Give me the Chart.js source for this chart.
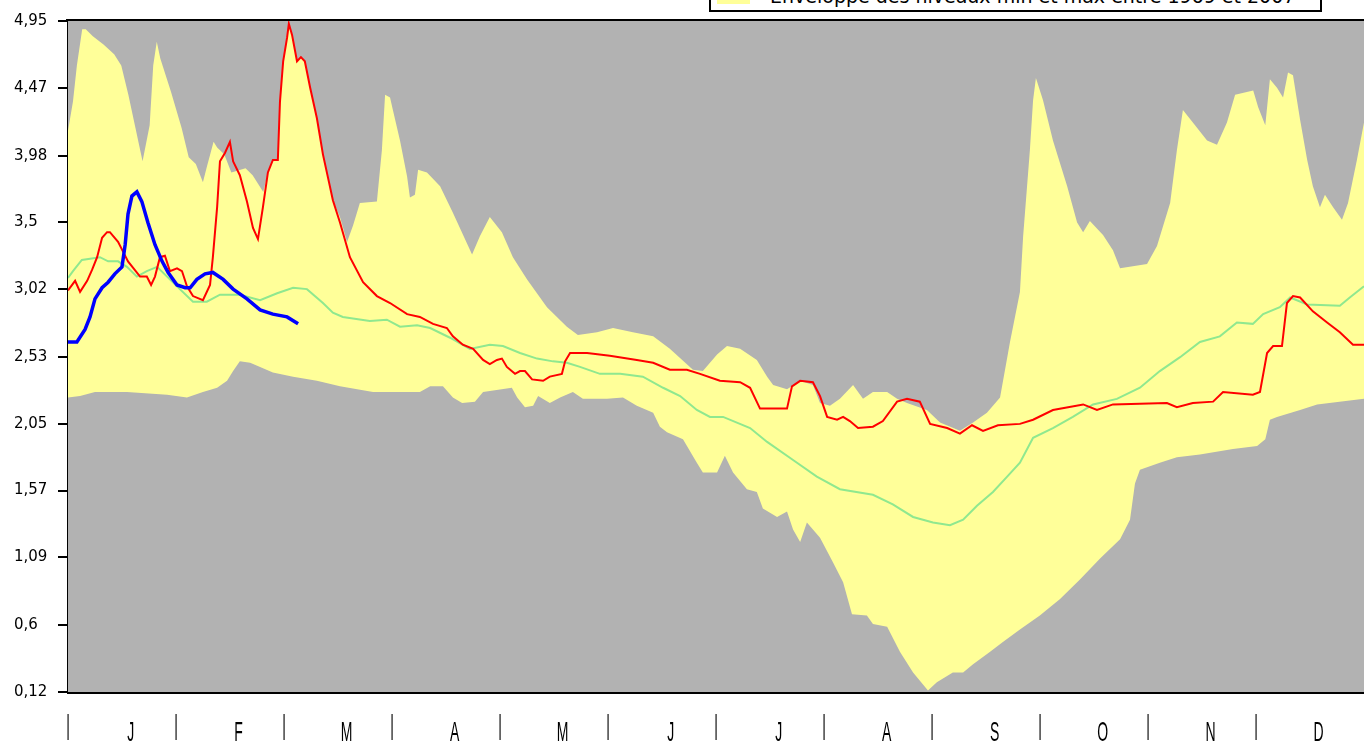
<!DOCTYPE html>
<html>
<head>
<meta charset="utf-8">
<script src="https://cdn.jsdelivr.net/npm/chart.js@4.4.1/dist/chart.umd.min.js"></script>
<style>
  html, body { margin: 0; padding: 0; background: #fff; overflow: hidden; }
  #wrap { position: relative; width: 1364px; height: 742px; }
  #levelChart { position: absolute; left: 0; top: 0; }
  .legend-box {
    position: absolute; left: 709px; top: -28px; width: 613px; height: 40px;
    box-sizing: border-box; border: 2px solid #000; background: #fff; z-index: 2;
  }
  .legend-swatch { position: absolute; left: 6px; bottom: 6px; width: 33px; height: 14px; background: #ffff99; }
  .legend-text {
    position: absolute; left: 59px; bottom: 4px; white-space: nowrap;
    font: 19px/19px "DejaVu Sans", sans-serif; color: #000;
  }
</style>
</head>
<body>
<div id="wrap">
  <canvas id="levelChart" width="1364" height="742"></canvas>
  <div class="legend-box">
    <div class="legend-swatch"></div>
    <div class="legend-text">Enveloppe des niveaux min et max entre 1969 et 2007</div>
  </div>
</div>
<script>
// axis labels
const MONTHS = ['J', 'F', 'M', 'A', 'M', 'J', 'J', 'A', 'S', 'O', 'N', 'D'];
const Y_TICKS = [0.12, 0.6, 1.09, 1.57, 2.05, 2.53, 3.02, 3.5, 3.98, 4.47, 4.95];

// envelope, upper limit (day of year -> level)
const maxDays = [0, 1.4, 2.5, 4, 5, 7, 10, 13, 15, 17,
  19, 21, 23, 24, 25, 26, 29, 32, 34, 36,
  38, 39, 41, 42, 44, 46, 50, 52, 55, 56.3,
  57.7, 59.1, 59.7, 60.6, 61.7, 62.2, 63.1, 64.5, 65.6, 66.7,
  68.2, 70.1, 71.8, 73.5, 74.6, 76.6, 78.6, 80.3, 82.2, 87,
  88.4, 89.3, 90.7, 91.5, 93.5, 95.5, 96.3, 97.7, 98.6, 101.1,
  104.8, 108.4, 113.8, 116, 118.8, 122.2, 125.3, 129.3, 134.9, 140.5,
  143.6, 149, 153.5, 159.1, 164.8, 169.5, 176, 178.8, 182.8, 185.6,
  189.3, 194, 196.9, 198.6, 202.5, 206.2, 209.8, 211.8, 214.6, 217.4,
  221.1, 223.9, 226.7, 230.7, 233.5, 236.3, 241.9, 245.6, 251.2, 254.9,
  258.8, 262.5, 265.3, 268.1, 269, 270.9, 271.8, 272.6, 274.6, 277.4,
  281.4, 284.2, 285.9, 287.8, 291.5, 294.3, 296.3, 303.9, 306.7, 310.4,
  312.3, 314, 316.8, 320.8, 323.6, 326.4, 328.7, 333.8, 335.2, 337.2,
  338.5, 340.5, 342.2, 343.6, 345, 347, 349, 350.6, 352.6, 354,
  356.3, 358.8, 360.5, 363, 365];
const maxLevels = [4.16, 4.37, 4.63, 4.89, 4.89, 4.84, 4.78, 4.71, 4.63, 4.42,
  4.18, 3.94, 4.20, 4.63, 4.80, 4.68, 4.44, 4.18, 3.97, 3.92,
  3.79, 3.89, 4.08, 4.04, 3.99, 3.86, 3.89, 3.84, 3.72, 3.86,
  3.95, 3.95, 4.37, 4.66, 4.83, 4.94, 4.85, 4.66, 4.69, 4.66,
  4.47, 4.25, 3.99, 3.79, 3.66, 3.54, 3.36, 3.48, 3.64, 3.65,
  4.02, 4.42, 4.40, 4.31, 4.09, 3.83, 3.68, 3.70, 3.88, 3.86,
  3.76, 3.57, 3.27, 3.40, 3.54, 3.43, 3.25, 3.09, 2.89, 2.75,
  2.69, 2.71, 2.74, 2.71, 2.68, 2.59, 2.44, 2.43, 2.55, 2.61,
  2.59, 2.51, 2.39, 2.33, 2.30, 2.36, 2.33, 2.20, 2.18, 2.23,
  2.33, 2.23, 2.28, 2.28, 2.23, 2.20, 2.15, 2.06, 2.00, 2.06,
  2.13, 2.24, 2.64, 3.00, 3.40, 4.02, 4.38, 4.54, 4.38, 4.09,
  3.76, 3.50, 3.43, 3.51, 3.41, 3.30, 3.17, 3.20, 3.33, 3.64,
  4.02, 4.31, 4.22, 4.09, 4.06, 4.22, 4.42, 4.45, 4.33, 4.20,
  4.53, 4.47, 4.40, 4.58, 4.56, 4.24, 3.95, 3.76, 3.61, 3.70,
  3.61, 3.52, 3.64, 3.95, 4.22];

// envelope, lower limit
const minDays = [0, 3.4, 7.6, 16.6, 27.9, 33.5, 38, 42, 44.8, 46.5,
  48.4, 51.3, 54.1, 57.7, 63.4, 70.1, 76.6, 85.9, 99.1, 102,
  105.6, 108.4, 111, 114.6, 116.9, 125, 126.5, 128.7, 131, 132.4,
  135.7, 138.6, 142.2, 145, 151.8, 156.3, 160.2, 164.8, 166.7, 168.7,
  173.2, 177.1, 178.8, 182.8, 185, 187.3, 191.2, 194, 195.7, 199.7,
  202.5, 204.2, 206.2, 208.1, 211.8, 215.5, 218.3, 220.8, 225, 226.7,
  230.7, 234.3, 238, 242.2, 244.7, 249.2, 252.1, 254.9, 259.7, 263.3,
  268.1, 273.7, 279.4, 285, 290.6, 296.3, 299.1, 300.5, 301.9, 307.5,
  312.3, 318.8, 328.1, 334.9, 337.2, 338.5, 340.5, 347, 351.8, 365];
const minLevels = [2.24, 2.25, 2.28, 2.28, 2.26, 2.24, 2.28, 2.31, 2.36, 2.43,
  2.50, 2.49, 2.46, 2.42, 2.39, 2.36, 2.32, 2.28, 2.28, 2.32,
  2.32, 2.24, 2.20, 2.21, 2.28, 2.31, 2.24, 2.17, 2.18, 2.25,
  2.20, 2.24, 2.28, 2.23, 2.23, 2.24, 2.18, 2.13, 2.03, 1.99,
  1.94, 1.77, 1.70, 1.70, 1.82, 1.70, 1.58, 1.56, 1.44, 1.38,
  1.42, 1.29, 1.20, 1.34, 1.23, 1.05, 0.91, 0.68, 0.67, 0.61,
  0.59, 0.41, 0.26, 0.13, 0.19, 0.26, 0.26, 0.32, 0.41, 0.48,
  0.57, 0.67, 0.79, 0.93, 1.08, 1.22, 1.36, 1.62, 1.72, 1.77,
  1.81, 1.83, 1.87, 1.89, 1.94, 2.08, 2.10, 2.15, 2.19, 2.23];

// mean level (green)
const meanDays = [0, 1.4, 3.9, 9, 11.3, 14.1, 16.6, 19.4, 22.2, 25.1,
  27.9, 30.7, 35.2, 39.1, 42.8, 48.4, 54.1, 58.9, 63.4, 67.3,
  71.8, 74.6, 77.4, 85, 89.8, 93.5, 98.3, 102, 107.6, 113.2,
  118.8, 122.5, 127.3, 132.1, 136.6, 140.5, 144.2, 149.8, 155.5, 161.9,
  167.6, 172.4, 177.1, 180.8, 184.5, 192.1, 196.9, 204.2, 210.9, 217.4,
  226.7, 232.3, 238, 243.6, 248.4, 252.1, 256, 260.5, 264.5, 268.1,
  271.8, 277.4, 283, 288.7, 295.4, 301.9, 307.5, 313.2, 318.8, 324.4,
  329.2, 333.7, 336.6, 341.3, 344.2, 349, 358.2, 361, 365];
const meanLevels = [3.10, 3.15, 3.23, 3.25, 3.22, 3.22, 3.18, 3.11, 3.15, 3.18,
  3.11, 3.04, 2.93, 2.93, 2.98, 2.98, 2.94, 2.99, 3.03, 3.02,
  2.92, 2.85, 2.82, 2.79, 2.80, 2.75, 2.76, 2.74, 2.67, 2.59,
  2.62, 2.61, 2.56, 2.52, 2.50, 2.49, 2.46, 2.41, 2.41, 2.39,
  2.31, 2.25, 2.15, 2.10, 2.10, 2.02, 1.92, 1.79, 1.67, 1.58,
  1.54, 1.47, 1.38, 1.34, 1.32, 1.36, 1.46, 1.56, 1.67, 1.77,
  1.95, 2.02, 2.10, 2.19, 2.23, 2.31, 2.43, 2.53, 2.64, 2.68,
  2.78, 2.77, 2.84, 2.89, 2.96, 2.91, 2.90, 2.96, 3.04];

// previous year (red)
const prevDays = [0, 2, 3.4, 5.4, 6.8, 8.2, 9.6, 11, 11.8, 14.1,
  15.5, 16.9, 20.3, 22.2, 23.4, 24.5, 25.9, 27.3, 28.7, 30.7,
  32.1, 33.5, 35.2, 38, 40, 40.8, 42, 42.8, 44.2, 45.6,
  46.5, 48.4, 50.4, 52.1, 53.5, 54.9, 56.3, 57.7, 59.1, 59.7,
  60.6, 61.7, 62.2, 63.1, 64.5, 65.6, 66.7, 68.2, 70.1, 71.8,
  73.5, 74.6, 76.6, 79.4, 83.1, 87, 90.7, 95.5, 99.1, 102.8,
  106.7, 108.4, 111.2, 114.1, 116.9, 118.8, 120.8, 122.2, 123.6, 125.9,
  127.3, 128.7, 130.7, 133.8, 135.7, 139.1, 140, 141.4, 146.2, 152.6,
  160.2, 164.8, 169.5, 174.3, 178, 183.6, 189.3, 192.1, 194.9, 202.5,
  203.9, 206.2, 209.8, 211.8, 213.8, 216.6, 218.3, 220.2, 222.5, 226.7,
  229.5, 233.5, 236.3, 239.9, 242.8, 247.6, 251.2, 254.6, 257.7, 261.9,
  268.1, 271.8, 277.4, 285.9, 289.8, 294.3, 309.5, 312.3, 316.8, 322.5,
  325.3, 333.7, 335.7, 337.7, 339.4, 341.9, 343.3, 345, 347, 350.6,
  354.6, 358.2, 361.9, 365];
const prevLevels = [3.01, 3.08, 3.00, 3.08, 3.16, 3.25, 3.39, 3.43, 3.43, 3.36,
  3.29, 3.22, 3.11, 3.11, 3.05, 3.11, 3.25, 3.26, 3.15, 3.17,
  3.15, 3.04, 2.97, 2.94, 3.05, 3.25, 3.61, 3.94, 4.00, 4.08,
  3.94, 3.84, 3.65, 3.46, 3.38, 3.61, 3.86, 3.95, 3.95, 4.37,
  4.66, 4.83, 4.93, 4.85, 4.66, 4.69, 4.66, 4.47, 4.25, 3.99,
  3.79, 3.66, 3.50, 3.25, 3.07, 2.97, 2.92, 2.84, 2.82, 2.77,
  2.74, 2.68, 2.62, 2.59, 2.51, 2.48, 2.51, 2.52, 2.46, 2.41,
  2.43, 2.43, 2.37, 2.36, 2.39, 2.41, 2.50, 2.56, 2.56, 2.54,
  2.51, 2.49, 2.44, 2.44, 2.41, 2.36, 2.35, 2.31, 2.16, 2.16,
  2.32, 2.36, 2.35, 2.25, 2.10, 2.08, 2.10, 2.07, 2.02, 2.03,
  2.07, 2.21, 2.23, 2.21, 2.05, 2.02, 1.98, 2.04, 2.00, 2.04,
  2.05, 2.08, 2.15, 2.19, 2.15, 2.19, 2.20, 2.17, 2.20, 2.21,
  2.28, 2.26, 2.28, 2.56, 2.61, 2.61, 2.92, 2.97, 2.96, 2.86,
  2.78, 2.71, 2.62, 2.62];

// current year (blue)
const curDays = [0, 2.5, 4.8, 6.2, 7.6, 9.6, 11.3, 13.2, 15.2, 16.1,
  16.9, 18, 19.4, 20.8, 22.5, 24.5, 26.5, 28.2, 30.7, 33,
  34.4, 36.3, 38.6, 40.8, 43.7, 46.5, 50.4, 54.1, 57.7, 61.7,
  64.8];
const curLevels = [2.64, 2.64, 2.73, 2.82, 2.95, 3.03, 3.07, 3.13, 3.18, 3.34,
  3.56, 3.69, 3.72, 3.65, 3.50, 3.34, 3.22, 3.14, 3.05, 3.03,
  3.03, 3.09, 3.13, 3.14, 3.09, 3.02, 2.95, 2.87, 2.84, 2.82,
  2.77];

const YEAR_DAYS = 365;
const MONTH_DAYS = YEAR_DAYS / 12;

// pair day/level arrays into points for the linear x scale
function points(days, levels) {
  const n = Math.min(days.length, levels.length);
  const out = [];
  for (let i = 0; i < n; i++) out.push({ x: days[i], y: levels[i] });
  return out;
}

// grey plot background + black frame on top
const plotFrame = {
  id: 'plotFrame',
  beforeDatasetsDraw(chart) {
    const { ctx, chartArea: a } = chart;
    ctx.save();
    ctx.fillStyle = '#b2b2b2';
    ctx.fillRect(a.left, a.top, a.right - a.left, a.bottom - a.top);
    ctx.restore();
  },
  afterDraw(chart) {
    const { ctx, chartArea: a } = chart;
    ctx.save();
    ctx.strokeStyle = '#000';
    ctx.lineWidth = 2;
    ctx.beginPath();
    ctx.moveTo(a.left - 2, a.top - 1);
    ctx.lineTo(a.right, a.top - 1);
    ctx.stroke();
    ctx.restore();
  }
};

// month labels under the axis: tall narrow glyphs, "|" on month limits
const monthLabels = {
  id: 'monthLabels',
  afterDraw(chart) {
    const { ctx } = chart;
    const x = chart.scales.x;
    const stretch = 2.0;
    ctx.save();
    ctx.fillStyle = '#000';
    ctx.font = '14px "Liberation Sans", Arial, sans-serif';
    ctx.textAlign = 'center';
    ctx.textBaseline = 'alphabetic';
    const draw = (txt, px, base) => {
      ctx.save();
      ctx.translate(px, base);
      ctx.scale(1, stretch);
      ctx.fillText(txt, 0, 0);
      ctx.restore();
    };
    MONTHS.forEach((m, i) => {
      draw('|', x.getPixelForValue(i * MONTH_DAYS), 734);
      draw(m, x.getPixelForValue((i + 0.58) * MONTH_DAYS), 741);
    });
    ctx.restore();
  }
};

const ctx = document.getElementById('levelChart').getContext('2d');

new Chart(ctx, {
  type: 'line',
  data: {
    datasets: [
      {
        label: 'max',
        data: points(maxDays, maxLevels),
        borderWidth: 0,
        borderColor: 'rgba(0,0,0,0)',
        backgroundColor: '#ffff99',
        fill: '+1',
        order: 5
      },
      {
        label: 'min',
        data: points(minDays, minLevels),
        borderWidth: 0,
        borderColor: 'rgba(0,0,0,0)',
        fill: false,
        order: 6
      },
      {
        label: 'moyenne',
        data: points(meanDays, meanLevels),
        borderColor: '#8fe88f',
        borderWidth: 2,
        fill: false,
        order: 3
      },
      {
        label: 'annee precedente',
        data: points(prevDays, prevLevels),
        borderColor: '#ff0000',
        borderWidth: 2,
        fill: false,
        order: 2
      },
      {
        label: 'annee en cours',
        data: points(curDays, curLevels),
        borderColor: '#0000ff',
        borderWidth: 3.5,
        fill: false,
        order: 1
      }
    ]
  },
  options: {
    responsive: false,
    animation: false,
    layout: { padding: { top: 21, left: 14, right: 0, bottom: 0 } },
    elements: { point: { radius: 0 }, line: { tension: 0 } },
    plugins: { legend: { display: false }, tooltip: { enabled: false } },
    scales: {
      x: {
        type: 'linear',
        min: 0,
        max: YEAR_DAYS,
        afterFit: s => { s.height = 50; },
        grid: { display: true, drawOnChartArea: false, drawTicks: false },
        border: { display: true, color: '#000', width: 3 },
        ticks: { display: false }
      },
      y: {
        min: 0.12,
        max: 4.95,
        afterFit: s => { s.width = 54; },
        afterBuildTicks: s => { s.ticks = Y_TICKS.map(v => ({ value: v })); },
        grid: { display: true, drawOnChartArea: false, drawTicks: true, tickLength: 10, color: '#000', lineWidth: 2 },
        border: { display: true, color: '#000', width: 3 },
        ticks: {
          crossAlign: 'far',
          color: '#000',
          font: { family: '"DejaVu Sans", sans-serif', size: 15 },
          callback: v => String(v).replace('.', ',')
        }
      }
    }
  },
  plugins: [plotFrame, monthLabels]
});
</script>
</body>
</html>
